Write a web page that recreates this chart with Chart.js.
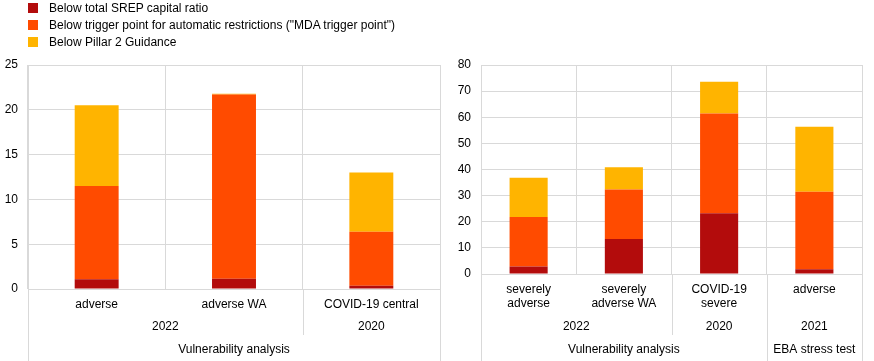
<!DOCTYPE html>
<html>
<head>
<meta charset="utf-8">
<script src="https://cdn.jsdelivr.net/npm/chart.js@4"></script>
<style>
  body { margin: 0; background: #fff; font-family: Arial, "Liberation Sans", sans-serif; }
  #wrap { position: relative; width: 874px; height: 361px; }
  .box { position: absolute; top: 0; height: 361px; }
  #legend { position: absolute; left: 28px; top: 0; font-size: 12px; color: #000; }
  #legend div { height: 17px; line-height: 17px; white-space: nowrap; }
  #legend span { display: inline-block; width: 10px; height: 10px; margin-right: 11px; vertical-align: -1px; }
</style>
</head>
<body>
<div id="wrap">
  <div class="box" style="left:0;width:445px"><canvas id="leftChart"></canvas></div>
  <div class="box" style="left:445px;width:429px"><canvas id="rightChart"></canvas></div>
  <div id="legend"></div>
</div>
<script>
const seriesNames = [
  "Below total SREP capital ratio",
  "Below trigger point for automatic restrictions (\"MDA trigger point\")",
  "Below Pillar 2 Guidance",
];
const seriesColors = ["#b30c0c", "#ff4b00", "#ffb400"];

// left panel
const leftCategories = ["adverse", "adverse WA", "COVID-19 central"];
const leftSrep = [1.1, 1.15, 0.35];
const leftMda = [10.4, 20.55, 6.05];
const leftP2g = [9.0, 0.1, 6.6];
const leftYears = [["2022", 0, 1], ["2020", 2, 2]];
const leftGroups = [["Vulnerability analysis", 0, 2]];

// right panel
const rightCategories = [["severely", "adverse"], ["severely", "adverse WA"], ["COVID-19", "severe"], "adverse"];
const rightSrep = [2.9, 13.4, 23.3, 1.8];
const rightMda = [18.9, 18.9, 38.1, 29.7];
const rightP2g = [15.0, 8.6, 12.2, 24.9];
const rightYears = [["2022", 0, 1], ["2020", 2, 2], ["2021", 3, 3]];
const rightGroups = [["Vulnerability analysis", 0, 2], ["EBA stress test", 3, 3]];

const FONT = "Arial, 'Liberation Sans', sans-serif";
const GRID = "#d9d9d9";

const legend = document.getElementById("legend");
seriesNames.forEach((name, i) => {
  const row = document.createElement("div");
  row.innerHTML = '<span style="background:' + seriesColors[i] + '"></span>' + name.replace(/"/g, "&quot;");
  legend.appendChild(row);
});

// draws the year / group rows and the divider lines under the x axis
const lowerAxis = {
  id: "lowerAxis",
  afterDraw(chart, args, opts) {
    const ctx = chart.ctx;
    const area = chart.chartArea;
    const x = chart.scales.x;
    const n = chart.data.labels.length;
    const w = (area.right - area.left) / n;
    const edgeL = (i) => area.left + i * w;
    const edgeR = (i) => area.left + (i + 1) * w;

    ctx.save();
    ctx.font = "12px " + FONT;
    ctx.fillStyle = "#000";
    ctx.textAlign = "center";
    ctx.textBaseline = "middle";
    opts.years.forEach(([t, a, b]) => ctx.fillText(t, (edgeL(a) + edgeR(b)) / 2, opts.yearY));
    opts.groups.forEach(([t, a, b]) => ctx.fillText(t, (edgeL(a) + edgeR(b)) / 2, opts.groupY));

    ctx.strokeStyle = GRID;
    ctx.lineWidth = 1;
    const vline = (px, y2) => {
      ctx.beginPath();
      ctx.moveTo(Math.round(px) + 0.5, area.bottom);
      ctx.lineTo(Math.round(px) + 0.5, y2);
      ctx.stroke();
    };
    vline(area.left, 361);
    vline(area.right, 361);
    opts.years.slice(1).forEach(([t, a]) => {
      const inGroupStart = opts.groups.some((g) => g[1] === a);
      vline(edgeL(a), inGroupStart ? 361 : opts.yearLineEnd);
    });
    ctx.restore();
  },
};

function makeChart(id, labels, srep, mda, p2g, opt) {
  const values = [srep, mda, p2g];
  return new Chart(document.getElementById(id), {
    type: "bar",
    data: {
      labels: labels,
      datasets: values.map((data, i) => ({
        label: seriesNames[i],
        data: data,
        backgroundColor: seriesColors[i],
        borderWidth: 0,
        barPercentage: opt.barPct,
        categoryPercentage: 1,
      })),
    },
    options: {
      responsive: true,
      maintainAspectRatio: false,
      animation: false,
      layout: { padding: { top: 65, right: opt.padRight, left: 0, bottom: 0 } },
      plugins: {
        legend: { display: false },
        tooltip: { enabled: false },
        lowerAxis: {
          years: opt.years,
          groups: opt.groups,
          yearY: 327,
          groupY: 350,
          yearLineEnd: 335,
        },
      },
      scales: {
        x: {
          stacked: true,
          afterFit: (s) => { s.height = opt.xHeight; },
          grid: { color: GRID, offset: true, drawTicks: false },
          border: { color: GRID },
          ticks: {
            color: "#000",
            font: { family: FONT, size: 12 },
            padding: 8,
            maxRotation: 0,
            autoSkip: false,
          },
        },
        y: {
          stacked: true,
          min: 0,
          max: opt.max,
          afterFit: (s) => { s.width = opt.yWidth; },
          grid: { color: GRID, drawTicks: false },
          border: { color: GRID },
          ticks: {
            stepSize: opt.step,
            color: "#000",
            font: { family: FONT, size: 12 },
            padding: 10,
          },
        },
      },
    },
    plugins: [lowerAxis],
  });
}

makeChart("leftChart", leftCategories, leftSrep, leftMda, leftP2g, {
  barPct: 0.32, max: 25, step: 5, yWidth: 28, xHeight: 72, padRight: 5,
  years: leftYears, groups: leftGroups,
});
makeChart("rightChart", rightCategories, rightSrep, rightMda, rightP2g, {
  barPct: 0.4, max: 80, step: 10, yWidth: 36, xHeight: 87, padRight: 12,
  years: rightYears, groups: rightGroups,
});
</script>
</body>
</html>
